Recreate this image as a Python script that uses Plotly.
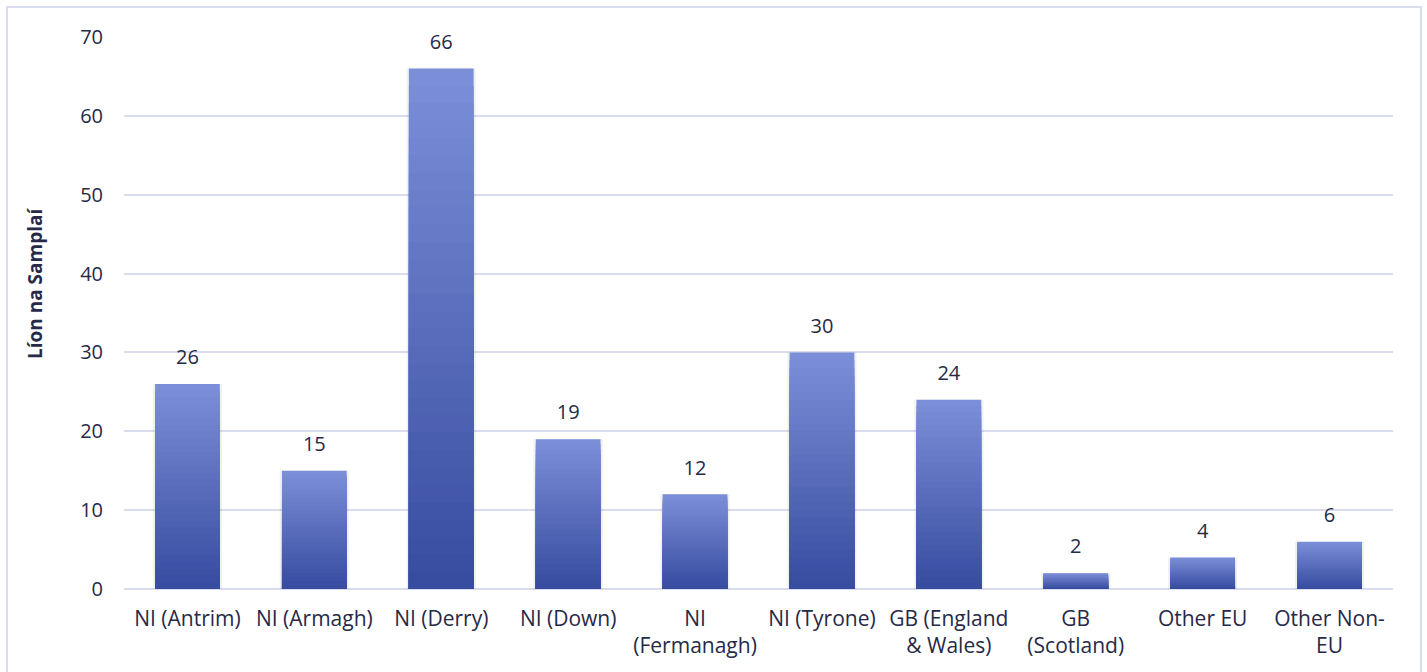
import plotly.graph_objects as go

categories = ["NI (Antrim)", "NI (Armagh)", "NI (Derry)", "NI (Down)", "NI<br>(Fermanagh)",
              "NI (Tyrone)", "GB (England<br>& Wales)", "GB<br>(Scotland)", "Other EU", "Other Non-<br>EU"]
values = [26, 15, 66, 19, 12, 30, 24, 2, 4, 6]
y_ticks = [0, 10, 20, 30, 40, 50, 60, 70]
y_title = "Líon na Samplaí"

FONT = "Open Sans"
TXT = "#262a48"
GRID = "#d9dcef"
TOP = (123, 142, 216)
BOT = (56, 76, 160)

W, H = 1427, 672
L, T = 124, 37
R = W - 1393
B = H - 589
PW, PH = W - L - R, H - T - B

fig = go.Figure()

# faint shadow behind bars
fig.add_trace(go.Bar(x=categories, y=values, width=0.545,
                     marker=dict(color="rgba(110,110,130,0.10)", line=dict(width=0)),
                     hoverinfo="skip", showlegend=False))

# gradient fill built from stacked overlay layers of the same bars
steps = 30
for k in range(steps):
    f = 1 - k / steps
    t = k / (steps - 1)
    c = tuple(round(TOP[i] + (BOT[i] - TOP[i]) * t) for i in range(3))
    fig.add_trace(go.Bar(
        x=categories, y=[v * f for v in values], width=0.51,
        marker=dict(color="rgb(%d,%d,%d)" % c, line=dict(width=0)),
        hoverinfo="skip" if k else "x+y",
        showlegend=False,
    ))

# value labels
fig.add_trace(go.Scatter(
    x=categories, y=values, mode="markers+text", text=[str(v) for v in values],
    textposition="top center", marker=dict(size=22, opacity=0),
    textfont=dict(family=FONT, size=20, color=TXT), cliponaxis=False,
    hoverinfo="skip", showlegend=False,
))

fig.update_layout(
    width=W, height=H,
    margin=dict(l=L, r=R, t=T, b=B),
    paper_bgcolor="white", plot_bgcolor="white",
    barmode="overlay",
    font=dict(family=FONT, size=20, color=TXT),
    xaxis=dict(range=[-0.5, len(categories) - 0.5], showgrid=False, showline=False, ticks="",
               tickfont=dict(size=21, color=TXT), ticklabelstandoff=15),
    yaxis=dict(range=[0, 70], tickvals=y_ticks, showgrid=True, gridcolor=GRID, gridwidth=1.5,
               zeroline=True, zerolinecolor=GRID, zerolinewidth=1.5, showline=False,
               tickfont=dict(size=20, color=TXT), ticklabelstandoff=20),
    annotations=[dict(text="<b>" + y_title + "</b>", textangle=-90, showarrow=False,
                      xref="paper", yref="paper", x=(35 - L) / PW, y=(589 - 283) / PH,
                      xanchor="center", yanchor="middle",
                      font=dict(family=FONT, size=19, color=TXT))],
    shapes=[dict(type="rect", xref="paper", yref="paper",
                 x0=(7 - L) / PW, x1=(1421 - L) / PW,
                 y0=(589 - 700) / PH, y1=(589 - 7) / PH,
                 line=dict(color=GRID, width=2), fillcolor="rgba(0,0,0,0)", layer="above")],
)

fig.write_html("out.html", config={"displayModeBar": False},
               post_script="document.body.style.margin='0';document.body.style.overflow='hidden';")
